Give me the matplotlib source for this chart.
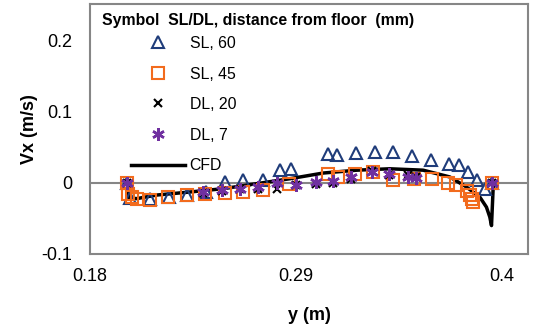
import matplotlib
matplotlib.use("Agg")
import matplotlib.pyplot as plt
from matplotlib.lines import Line2D

plt.rcParams['font.family'] = ['Liberation Sans', 'DejaVu Sans']

# SL, 60 (triangles)
sl60_x = [0.200, 0.2015, 0.212, 0.222, 0.232, 0.242, 0.252, 0.262, 0.2725, 0.2815, 0.2874,
          0.3073, 0.312, 0.322, 0.332, 0.342, 0.352, 0.362, 0.372, 0.377, 0.382, 0.3865, 0.391, 0.3945]
sl60_y = [0.0, -0.021, -0.022, -0.020, -0.017, -0.013, 0.001, 0.0035, 0.0045, 0.0176, 0.020,
          0.041, 0.039, 0.042, 0.043, 0.043, 0.038, 0.032, 0.027, 0.026, 0.015, 0.004, -0.008, 0.0]

# SL, 45 (squares)
sl45_x = [0.1996, 0.2005, 0.2022, 0.2049, 0.212, 0.2218, 0.2316, 0.2414, 0.2521, 0.2619, 0.2722,
          0.2865, 0.3073, 0.3127, 0.3215, 0.3313, 0.342, 0.3532, 0.3625, 0.3714, 0.3758, 0.3812,
          0.383, 0.3839, 0.3848, 0.3946]
sl45_y = [0.0, -0.015, -0.020, -0.022, -0.0236, -0.020, -0.0174, -0.015, -0.014, -0.012, -0.0105,
          -0.001, 0.013, 0.008, 0.013, 0.015, 0.0035, 0.006, 0.006, 0.0, -0.0035, -0.0106,
          -0.0176, -0.022, -0.027, 0.0]

# DL, 20 (x)
dl20_x = [0.1996, 0.2405, 0.2503, 0.2601, 0.2699, 0.2797, 0.290, 0.3007, 0.310, 0.3197, 0.3304,
          0.3398, 0.350, 0.3544, 0.3945]
dl20_y = [0.0, -0.014, -0.011, -0.009, -0.008, -0.008, -0.003, -0.001, 0.0, 0.006, 0.017,
          0.011, 0.011, 0.009, 0.0]

# DL, 7 (asterisks)
dl7_x = [0.1996, 0.2405, 0.2503, 0.2601, 0.2699, 0.2797, 0.290, 0.3007, 0.310, 0.3197, 0.3304,
         0.3398, 0.350, 0.3544, 0.3945]
dl7_y = [0.0, -0.0127, -0.0094, -0.008, -0.0056, 0.0, -0.0023, 0.0014, 0.0023, 0.0085, 0.0155,
         0.0131, 0.0085, 0.007, 0.0]

# CFD
cfd_x = [0.2000, 0.2010, 0.2050, 0.2156, 0.2334, 0.2512, 0.2690, 0.2868, 0.3046, 0.3224, 0.3402,
         0.3580, 0.3722, 0.3811, 0.3883, 0.3918, 0.3936, 0.3945, 0.3955]
cfd_y = [-0.012, -0.021, -0.022, -0.017, -0.0127, -0.008, -0.001, 0.006, 0.014, 0.018, 0.020,
         0.018, 0.0085, -0.0056, -0.020, -0.034, -0.048, -0.060, 0.0]

fig = plt.figure(figsize=(5.38, 3.32), dpi=100)
ax = fig.add_axes([90 / 538, 78 / 332, 438 / 538, 250 / 332])

grey = '#868686'
ax.axhline(0, color=grey, lw=1.5, zorder=1)

ax.plot(cfd_x, cfd_y, color='black', lw=2.5, zorder=2)
ax.plot(sl60_x, sl60_y, ls='none', marker='^', ms=8, mfc='none', mec='#1F3C7A', mew=1.5, zorder=3)
ax.plot(sl45_x, sl45_y, ls='none', marker='s', ms=9, mfc='none', mec='#F26B1D', mew=1.5, zorder=4)
ax.plot(dl20_x, dl20_y, ls='none', marker='x', ms=6, mec='black', mew=1.5, zorder=5)
ax.plot(dl7_x, dl7_y, ls='none', marker=(6, 2, 0), ms=9, mec='#7030A0', mew=1.8, zorder=6)

ax.set_xlim(0.18, 0.414)
ax.set_ylim(-0.1, 0.252)
ax.set_xticks([0.18, 0.29, 0.4])
ax.set_xticklabels(['0.18', '0.29', '0.4'])
ax.set_yticks([-0.1, 0, 0.1, 0.2])
ax.set_yticklabels(['-0.1', '0', '0.1', '0.2'])
ax.tick_params(length=0, labelsize=13)
ax.tick_params(axis='x', pad=10)
ax.tick_params(axis='y', pad=13)
for s in ax.spines.values():
    s.set_color(grey)
    s.set_linewidth(1.5)

ax.set_xlabel('y (m)', fontsize=13, fontweight='bold', labelpad=16)
ax.set_ylabel('Vx (m/s)', fontsize=13, fontweight='bold', labelpad=2)

fig.text(102 / 538, 1 - 20 / 332, 'Symbol  SL/DL, distance from floor  (mm)',
         fontsize=11.4, fontweight='bold', va='center', ha='left')

handles = [
    Line2D([], [], ls='none', marker='^', ms=8, mfc='none', mec='#1F3C7A', mew=1.5),
    Line2D([], [], ls='none', marker='s', ms=9, mfc='none', mec='#F26B1D', mew=1.5),
    Line2D([], [], ls='none', marker='x', ms=6, mec='black', mew=1.5),
    Line2D([], [], ls='none', marker=(6, 2, 0), ms=9, mec='#7030A0', mew=1.8),
    Line2D([], [], color='black', lw=2.5),
]
labels = ['SL, 60', 'SL, 45', 'DL, 20', 'DL, 7', 'CFD']
fig.legend(handles, labels, loc='upper left', bbox_to_anchor=(131 / 538, 1 - 36 / 332),
           frameon=False, fontsize=11.4, borderpad=0, borderaxespad=0, handlelength=3.4,
           handletextpad=0.3, labelspacing=0.98)

fig.savefig('out.png', dpi=100)
